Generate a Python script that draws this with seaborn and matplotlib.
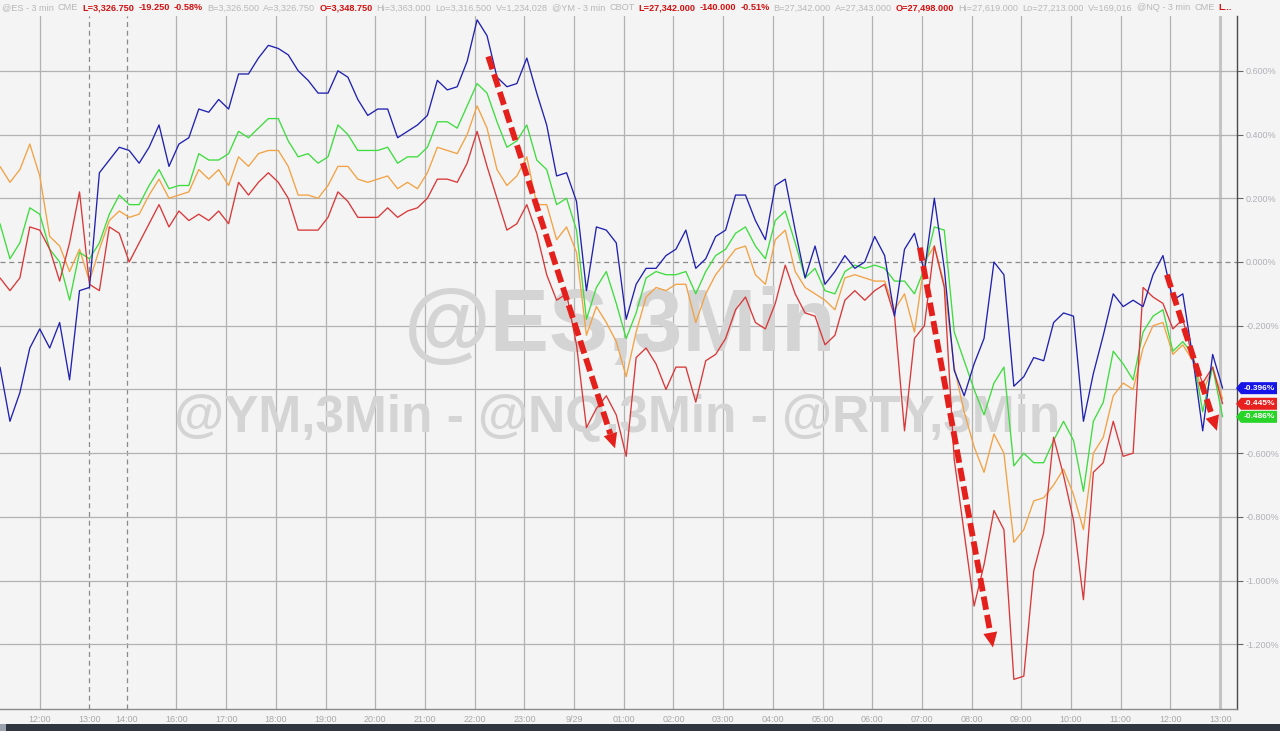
import matplotlib
matplotlib.use("Agg")
import matplotlib.pyplot as plt
import matplotlib.transforms as mtransforms
from matplotlib.patches import Rectangle, Polygon
import numpy as np
import pandas as pd
import seaborn as sns

# ---------------- data (3-minute bar index, % change) ----------------
bars = list(range(0, 489, 4)) + [492]

blue_pct = [
    -0.33, -0.50, -0.41, -0.27, -0.21, -0.27, -0.19, -0.37, -0.09, -0.08,
    0.28, 0.32, 0.36, 0.35, 0.31, 0.36, 0.43, 0.30, 0.37, 0.39,
    0.48, 0.47, 0.51, 0.48, 0.59, 0.59, 0.64, 0.68, 0.67, 0.65,
    0.60, 0.57, 0.53, 0.53, 0.60, 0.58, 0.51, 0.46, 0.48, 0.48,
    0.39, 0.41, 0.43, 0.46, 0.57, 0.54, 0.55, 0.63, 0.76, 0.71,
    0.58, 0.55, 0.56, 0.64, 0.53, 0.43, 0.27, 0.28, 0.19, -0.09,
    0.11, 0.10, 0.06, -0.18, -0.07, -0.02, -0.02, 0.02, 0.04, 0.10,
    -0.02, 0.01, 0.08, 0.10, 0.21, 0.21, 0.13, 0.07, 0.24, 0.26,
    0.10, -0.05, 0.05, -0.07, -0.03, 0.02, -0.02, 0.00, 0.08, 0.02,
    -0.17, 0.04, 0.09, -0.03, 0.20, -0.02, -0.34, -0.42, -0.32, -0.24,
    0.00, -0.04, -0.39, -0.36, -0.30, -0.31, -0.19, -0.16, -0.17, -0.50,
    -0.35, -0.23, -0.10, -0.14, -0.12, -0.14, -0.04, 0.02, -0.12, -0.10,
    -0.30, -0.53, -0.29, -0.396]

green_pct = [
    0.12, 0.01, 0.06, 0.17, 0.15, 0.04, 0.00, -0.12, 0.03, 0.01,
    0.06, 0.15, 0.21, 0.18, 0.18, 0.24, 0.29, 0.23, 0.24, 0.24,
    0.34, 0.32, 0.32, 0.34, 0.41, 0.39, 0.42, 0.45, 0.45, 0.38,
    0.33, 0.34, 0.31, 0.33, 0.43, 0.40, 0.35, 0.35, 0.35, 0.36,
    0.31, 0.33, 0.33, 0.36, 0.44, 0.44, 0.42, 0.49, 0.56, 0.53,
    0.44, 0.36, 0.38, 0.43, 0.32, 0.29, 0.18, 0.20, 0.10, -0.18,
    -0.08, -0.03, -0.13, -0.24, -0.16, -0.05, -0.03, -0.04, -0.04, -0.03,
    -0.10, -0.03, 0.02, 0.04, 0.09, 0.11, 0.05, 0.01, 0.13, 0.16,
    0.06, -0.05, -0.02, -0.09, -0.10, -0.03, -0.01, -0.02, -0.01, -0.02,
    -0.06, -0.06, -0.10, -0.02, 0.11, 0.10, -0.22, -0.31, -0.40, -0.48,
    -0.38, -0.33, -0.64, -0.60, -0.63, -0.63, -0.56, -0.50, -0.56, -0.72,
    -0.50, -0.44, -0.28, -0.32, -0.37, -0.22, -0.17, -0.15, -0.28, -0.25,
    -0.29, -0.47, -0.33, -0.486]

orange_pct = [
    0.30, 0.25, 0.29, 0.37, 0.27, 0.08, 0.05, -0.03, 0.04, -0.06,
    0.04, 0.13, 0.16, 0.14, 0.15, 0.21, 0.26, 0.20, 0.21, 0.22,
    0.29, 0.26, 0.29, 0.24, 0.33, 0.30, 0.34, 0.35, 0.35, 0.30,
    0.21, 0.21, 0.20, 0.24, 0.30, 0.30, 0.26, 0.25, 0.26, 0.27,
    0.23, 0.25, 0.23, 0.28, 0.36, 0.35, 0.34, 0.40, 0.49, 0.42,
    0.29, 0.24, 0.27, 0.33, 0.18, 0.18, 0.07, 0.11, 0.03, -0.23,
    -0.14, -0.19, -0.25, -0.36, -0.22, -0.11, -0.08, -0.09, -0.07, -0.07,
    -0.19, -0.10, -0.04, 0.00, 0.04, 0.05, -0.04, -0.07, 0.07, 0.10,
    -0.03, -0.08, -0.10, -0.12, -0.15, -0.05, -0.04, -0.05, -0.06, -0.06,
    -0.15, -0.10, -0.22, 0.00, 0.05, -0.07, -0.33, -0.47, -0.58, -0.66,
    -0.54, -0.60, -0.88, -0.84, -0.75, -0.74, -0.70, -0.65, -0.73, -0.84,
    -0.60, -0.55, -0.42, -0.38, -0.40, -0.27, -0.20, -0.19, -0.29, -0.26,
    -0.31, -0.41, -0.33, -0.43]

red_pct = [
    -0.05, -0.09, -0.05, 0.11, 0.10, 0.04, -0.06, 0.06, 0.22, -0.07,
    -0.09, 0.11, 0.09, 0.00, 0.06, 0.12, 0.18, 0.11, 0.16, 0.13,
    0.15, 0.13, 0.16, 0.12, 0.25, 0.21, 0.25, 0.28, 0.25, 0.20,
    0.10, 0.10, 0.10, 0.14, 0.22, 0.19, 0.14, 0.14, 0.14, 0.17,
    0.14, 0.16, 0.17, 0.20, 0.26, 0.26, 0.25, 0.31, 0.41, 0.30,
    0.20, 0.10, 0.12, 0.18, 0.09, -0.04, -0.12, -0.10, -0.26, -0.52,
    -0.46, -0.42, -0.48, -0.61, -0.30, -0.27, -0.32, -0.40, -0.33, -0.33,
    -0.44, -0.31, -0.29, -0.24, -0.15, -0.11, -0.19, -0.21, -0.13, -0.01,
    -0.10, -0.16, -0.17, -0.26, -0.23, -0.12, -0.09, -0.12, -0.09, -0.07,
    -0.17, -0.53, -0.24, -0.20, 0.05, -0.08, -0.62, -0.85, -1.08, -0.95,
    -0.78, -0.84, -1.31, -1.30, -0.97, -0.85, -0.55, -0.67, -0.81, -1.06,
    -0.66, -0.63, -0.50, -0.61, -0.60, -0.08, -0.11, -0.13, -0.21, -0.18,
    -0.30, -0.38, -0.33, -0.445]

tick_bars = [16, 36, 51, 71, 91, 111, 131, 151, 171, 191, 211, 231, 251,
             271, 291, 311, 331, 351, 371, 391, 411, 431, 451, 471, 491]
tick_labels = ["12:00", "13:00", "14:00", "16:00", "17:00", "18:00", "19:00",
               "20:00", "21:00", "22:00", "23:00", "9/29", "01:00", "02:00",
               "03:00", "04:00", "05:00", "06:00", "07:00", "08:00", "09:00",
               "10:00", "11:00", "12:00", "13:00"]
y_ticks = [0.6, 0.4, 0.2, 0.0, -0.2, -0.4, -0.6, -0.8, -1.0, -1.2]

# annotation arrows (start bar, start %, end bar, end %)
arrows = [(196.5, 0.645, 247.5, -0.585),
          (370.2, 0.045, 399.6, -1.21),
          (469.6, -0.04, 489.7, -0.53)]

header = [  # (text, is_red)
    ("@ES - 3 min", False), ("CME", False),
    ("L=3,326.750", True), ("-19.250", True), ("-0.58%", True),
    ("B=3,326.500", False), ("A=3,326.750", False),
    ("O=3,348.750", True), ("Hi=3,363.000", False),
    ("Lo=3,316.500", False), ("V=1,234,028", False),
    ("@YM - 3 min", False), ("CBOT", False),
    ("L=27,342.000", True), ("-140.000", True), ("-0.51%", True),
    ("B=27,342.000", False), ("A=27,343.000", False),
    ("O=27,498.000", True), ("Hi=27,619.000", False),
    ("Lo=27,213.000", False), ("V=169,016", False),
    ("@NQ - 3 min", False), ("CME", False), ("L...", True)]

# ---------------- style ----------------
BG = "#f4f4f4"
sns.set_style("white", {"axes.facecolor": BG, "figure.facecolor": BG})
plt.rcParams["font.family"] = ["Liberation Sans", "DejaVu Sans"]

W, H = 1280, 731
fig = plt.figure(figsize=(W / 100, H / 100), dpi=100)
ax = fig.add_axes([0, (H - 709) / H, 1237 / W, (709 - 16) / H])
ax.set_xlim(0, 497.8)
ax.set_ylim(-1.403, 0.772)

series_order = ["orange", "green", "red", "blue"]
palette = {"blue": "#2121b0", "green": "#3fdc3f", "orange": "#f2a244", "red": "#d93838"}
df = pd.concat([
    pd.DataFrame({"bar": bars, "pct": orange_pct, "series": "orange"}),
    pd.DataFrame({"bar": bars, "pct": green_pct, "series": "green"}),
    pd.DataFrame({"bar": bars, "pct": red_pct, "series": "red"}),
    pd.DataFrame({"bar": bars, "pct": blue_pct, "series": "blue"}),
], ignore_index=True)

# grid
for i, b in enumerate(tick_bars):
    if i in (1, 2):
        ax.axvline(b, color="#8a8a8a", lw=0.9, ls=(0, (4, 3)), zorder=1)
    elif i == len(tick_bars) - 1:
        ax.axvline(b, color="#c4c4c4", lw=2.2, zorder=1)
    else:
        ax.axvline(b, color="#b2b2b2", lw=0.9, zorder=1)
for v in y_ticks:
    if v == 0:
        ax.axhline(v, color="#8a8a8a", lw=0.9, ls=(0, (4, 3)), zorder=1)
    else:
        ax.axhline(v, color="#b2b2b2", lw=0.9, zorder=1)

# watermarks
ax.text(620 / W, 1 - 328 / H, "@ES,3Min", transform=fig.transFigure, ha="center",
        va="center", fontsize=64, fontweight="bold", color="#d4d4d4", zorder=1.5)
ax.text(617 / W, 1 - 419 / H, "@YM,3Min - @NQ,3Min - @RTY,3Min", transform=fig.transFigure,
        ha="center", va="center", fontsize=37, fontweight="bold", color="#d4d4d4", zorder=1.5)

sns.lineplot(data=df, x="bar", y="pct", hue="series", hue_order=series_order,
             palette=palette, lw=0.95, legend=False, sort=False, errorbar=None,
             estimator=None, ax=ax, zorder=3)

# axes cosmetics
ax.set_xlabel("")
ax.set_ylabel("")
ax.set_xticks(tick_bars)
ax.set_xticklabels(tick_labels)
ax.yaxis.tick_right()
ax.set_yticks(y_ticks)
# the -0.400% label sits under the last-value tags, as in the reference
ax.set_yticklabels(["" if abs(v + 0.4) < 1e-9 else f"{v:.3f}%" for v in y_ticks])
ax.tick_params(axis="y", direction="out", length=4, width=0.8, color="#666666",
               labelsize=6.5, labelcolor="#b0b0b8", pad=2)
ax.tick_params(axis="x", direction="in", length=7, width=0.8, color="#777777",
               labelsize=6.5, labelcolor="#a8a8a8", pad=4)
for s in ("top", "left"):
    ax.spines[s].set_visible(False)
ax.spines["right"].set_color("#4a4a4a")
ax.spines["right"].set_linewidth(1.0)
ax.spines["bottom"].set_color("#8a8a8a")
ax.spines["bottom"].set_linewidth(1.0)

# dashed red arrows
fig.canvas.draw()
renderer = fig.canvas.get_renderer()
for (x0, y0, x1, y1) in arrows:
    p0 = ax.transData.transform((x0, y0))
    p1 = ax.transData.transform((x1, y1))
    d = p1 - p0
    u = d / np.hypot(*d)
    n = np.array([-u[1], u[0]])
    L, Wd = 15, 14
    base = p1 - u * L
    bx, by = ax.transData.inverted().transform(base)
    ax.plot([x0, bx], [y0, by], color="#e3201b", lw=4.2, ls=(0, (2.3, 0.9)),
            solid_capstyle="butt", dash_capstyle="butt", zorder=5)
    tri = Polygon([p1, base + n * Wd / 2, base - n * Wd / 2], closed=True,
                  transform=None, facecolor="#e3201b", edgecolor="none", zorder=5)
    ax.add_artist(tri)

# last value labels
blend = mtransforms.blended_transform_factory(fig.transFigure, ax.transData)
hh = 6 / 318.5
for vals, col in ((blue_pct, "#1515e8"), (red_pct, "#e8201e"), (green_pct, "#27d427")):
    v = vals[-1]
    poly = Polygon([(1236 / W, v), (1241 / W, v + hh), (1277 / W, v + hh),
                    (1277 / W, v - hh), (1241 / W, v - hh)], closed=True,
                   transform=blend, facecolor=col, edgecolor="none", clip_on=False, zorder=6)
    ax.add_artist(poly)
    ax.text(1259 / W, v, f"{v:.3f}%", transform=blend, ha="center", va="center",
            fontsize=6.0, fontweight="bold", color="white", clip_on=False, zorder=7)

# header strip: measure, then spread evenly between x=2 and x=1232
texts = []
for t, red in header:
    tt = fig.text(0, 1 - 8 / H, t, ha="left", va="center", fontsize=6.6,
                  fontweight="bold" if red else "normal",
                  color="#d41010" if red else "#b8b8b8")
    texts.append(tt)
widths = [tt.get_window_extent(renderer).width for tt in texts]
gap = (1232 - 2 - sum(widths)) / (len(texts) - 1)
xpos = 2.0
for tt, w in zip(texts, widths):
    tt.set_x(xpos / W)
    xpos += w + gap

# bottom dark bar
fig.patches.append(Rectangle((0, 0), 1, 7 / H, transform=fig.transFigure,
                             facecolor="#2f3640", edgecolor="none"))
fig.patches.append(Rectangle((0, 0), 6 / W, 7 / H, transform=fig.transFigure,
                             facecolor="#9aa2ad", edgecolor="none"))

fig.savefig("out.png", dpi=100, facecolor=BG)
